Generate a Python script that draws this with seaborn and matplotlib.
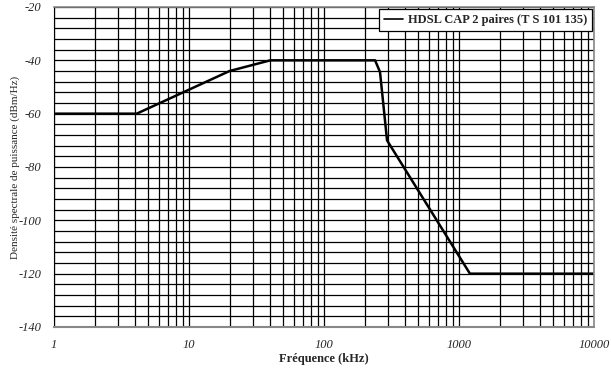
import pandas as pd
import numpy as np
import seaborn as sns
import matplotlib.pyplot as plt
import matplotlib.ticker as mtick

# points (kHz, dBm/Hz)
freq_khz = [1, 4.1, 20, 40, 239, 260, 293, 1205, 10000]
psd_dbm = [-60, -60, -44, -40, -40, -44.4, -70, -120, -120]
series_name = 'HDSL CAP 2 paires (T S 101 135)'

df = pd.DataFrame({'freq': freq_khz, 'psd': psd_dbm})

sns.set_style("white")
plt.rcParams['font.family'] = ['Liberation Serif', 'DejaVu Serif']
plt.rcParams['axes.unicode_minus'] = False

fig = plt.figure(figsize=(6.11, 3.74), dpi=100)
ax = fig.add_axes([54/611, 1-327/374, 540/611, 320/374])

sns.lineplot(data=df, x='freq', y='psd', color='black', linewidth=1.8,
             label=series_name, ax=ax)

ax.set_xscale('log')
ax.set_xlim(1, 10000)
ax.set_ylim(-140, -20)

ax.xaxis.set_major_locator(mtick.LogLocator(base=10, numticks=10))
ax.xaxis.set_minor_locator(mtick.LogLocator(base=10, subs=np.arange(2, 10), numticks=10))
ax.xaxis.set_major_formatter(mtick.FuncFormatter(lambda v, p: '%d' % v))
ax.xaxis.set_minor_formatter(mtick.NullFormatter())
ax.yaxis.set_major_locator(mtick.MultipleLocator(20))
ax.yaxis.set_minor_locator(mtick.MultipleLocator(4))

ax.grid(True, which='both', color='black', linewidth=0.9)
ax.set_axisbelow(True)

ax.tick_params(axis='both', which='major', direction='out', length=4, width=0.9,
               color='black', labelsize=9, pad=5)
ax.tick_params(axis='both', which='minor', direction='out', length=4, width=0.9,
               color='black')
ax.tick_params(axis='y', which='major', pad=5)
for lab in ax.get_xticklabels() + ax.get_yticklabels():
    lab.set_fontstyle('italic')

for s in ['top', 'right']:
    ax.spines[s].set_color('#888888')
    ax.spines[s].set_linewidth(1.2)
ax.spines['left'].set_color('black')
ax.spines['bottom'].set_color('#888888')
ax.spines['bottom'].set_linewidth(1.5)

ax.set_xlabel('Fréquence (kHz)', fontsize=9, fontweight='bold', labelpad=1)
ax.set_ylabel('Densité spectrale de puissance (dBm/Hz)', fontsize=8, labelpad=-1)

leg = ax.legend(loc='upper right', frameon=True, fancybox=False,
                prop={'weight': 'bold', 'size': 9}, handlelength=1.5,
                borderaxespad=0.15, borderpad=0.4, handletextpad=0.4)
leg.get_frame().set_edgecolor('black')
leg.get_frame().set_linewidth(0.9)
leg.get_frame().set_alpha(1)
leg.get_lines()[0].set_linewidth(1.2)

plt.savefig('out.png', dpi=100)
